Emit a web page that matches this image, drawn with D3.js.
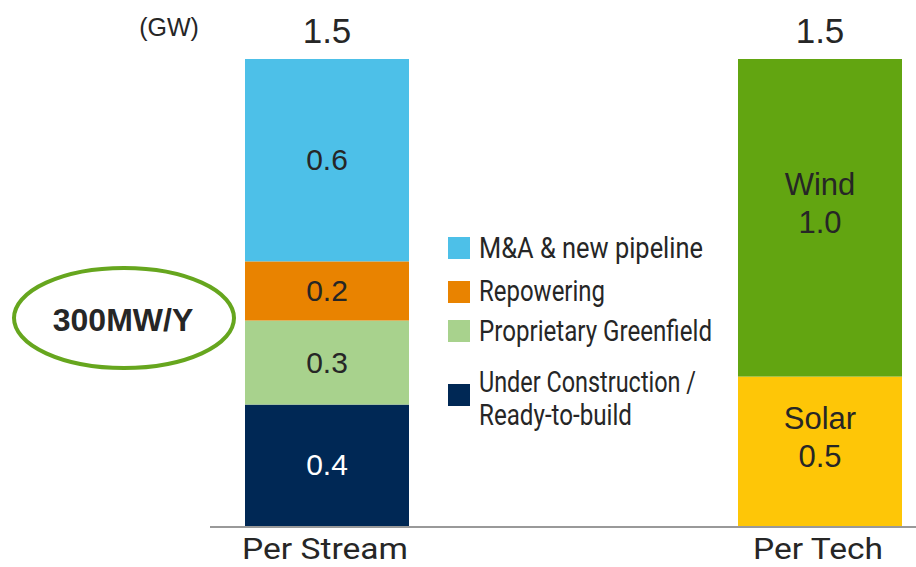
<!DOCTYPE html>
<html>
<head>
<meta charset="utf-8">
<script src="https://cdn.jsdelivr.net/npm/d3@7"></script>
<style>
  body { margin: 0; background: #fff; }
  text { fill: #262626; }
  .cond { font-family: "Roboto", "Liberation Sans", sans-serif; }
  .reg { font-family: "Liberation Sans", Arial, sans-serif; }
</style>
</head>
<body>
<div id="chart"></div>
<script>
// Data (GW)
const categories = ['Per Stream', 'Per Tech'];
const streamNames = ['Under Construction / Ready-to-build', 'Proprietary Greenfield', 'Repowering', 'M&A & new pipeline'];
const streamValues = [0.39, 0.27, 0.19, 0.65];
const streamLabels = ['0.4', '0.3', '0.2', '0.6'];
const techNames = ['Solar', 'Wind'];
const techValues = [0.48, 1.02];
const techLabels = ['0.5', '1.0'];
const totals = ['1.5', '1.5'];

const streamColors = ['#002855', '#A8D28D', '#E98300', '#4DC0E8'];
const techColors = ['#FEC607', '#62A511'];

const width = 916, height = 567;

const svg = d3.select('#chart').append('svg')
  .attr('width', width)
  .attr('height', height);

const x = d3.scaleOrdinal()
  .domain(categories)
  .range([245, 738]);
const barW = 164;

const y = d3.scaleLinear()
  .domain([0, 1.5])
  .range([526, 59]);

// stack helper
function stackUp(values) {
  let acc = 0;
  return values.map(v => { const s = { y0: acc, y1: acc + v }; acc += v; return s; });
}

const streamStack = stackUp(streamValues).map((d, i) => ({
  ...d, color: streamColors[i], label: streamLabels[i], name: streamNames[i]
}));
const techStack = stackUp(techValues).map((d, i) => ({
  ...d, color: techColors[i], label: techLabels[i], name: techNames[i]
}));

// Per Stream bar
const gStream = svg.append('g');
gStream.selectAll('rect')
  .data(streamStack)
  .enter().append('rect')
  .attr('x', x('Per Stream'))
  .attr('width', barW)
  .attr('y', d => y(d.y1))
  .attr('height', d => y(d.y0) - y(d.y1))
  .attr('fill', d => d.color);

gStream.selectAll('text')
  .data(streamStack)
  .enter().append('text')
  .attr('class', 'reg')
  .attr('x', x('Per Stream') + barW / 2)
  .attr('y', d => (y(d.y0) + y(d.y1)) / 2)
  .attr('dy', '0.34em')
  .attr('text-anchor', 'middle')
  .attr('font-size', 30)
  .style('fill', (d, i) => i === 0 ? '#fff' : '#262626')
  .text(d => d.label);

// Per Tech bar
const gTech = svg.append('g');
gTech.selectAll('rect')
  .data(techStack)
  .enter().append('rect')
  .attr('x', x('Per Tech'))
  .attr('width', barW)
  .attr('y', d => y(d.y1))
  .attr('height', d => y(d.y0) - y(d.y1))
  .attr('fill', d => d.color);

// labels sit in the upper part of each tech segment
const techOffset = [52, 136];
techStack.forEach((d, i) => {
  const cx = x('Per Tech') + barW / 2;
  const t = gTech.append('text')
    .attr('class', 'reg')
    .attr('y', y(d.y1) + techOffset[i])
    .attr('text-anchor', 'middle')
    .attr('font-size', 31);
  t.append('tspan').attr('x', cx).text(d.name);
  t.append('tspan').attr('x', cx).attr('dy', 38).text(d.label);
});

// totals above bars
svg.selectAll('.total')
  .data(categories)
  .enter().append('text')
  .attr('class', 'total reg')
  .attr('x', d => x(d) + barW / 2)
  .attr('y', 43)
  .attr('text-anchor', 'middle')
  .attr('font-size', 35)
  .text((d, i) => totals[i]);

// unit
svg.append('text')
  .attr('class', 'reg')
  .attr('x', 169)
  .attr('y', 36)
  .attr('text-anchor', 'middle')
  .attr('font-size', 25)
  .text('(GW)');

// baseline
svg.append('line')
  .attr('x1', 210)
  .attr('x2', width)
  .attr('y1', y(0) + 1)
  .attr('y2', y(0) + 1)
  .attr('stroke', '#999')
  .attr('stroke-width', 2);

// category labels
const catWidths = [166, 130];
svg.selectAll('.cat')
  .data(categories)
  .enter().append('text')
  .attr('class', 'cat cond')
  .attr('x', d => x(d) + barW / 2 - 2)
  .attr('y', 559)
  .attr('text-anchor', 'middle')
  .attr('font-size', 30)
  .attr('textLength', (d, i) => catWidths[i])
  .attr('lengthAdjust', 'spacingAndGlyphs')
  .text(d => d);

// legend (top to bottom)
const legendItems = [
  { color: streamColors[3], lines: ['M&A & new pipeline'], widths: [224], sq: 237, base: 258 },
  { color: streamColors[2], lines: ['Repowering'], widths: [126], sq: 281, base: 301 },
  { color: streamColors[1], lines: ['Proprietary Greenfield'], widths: [233], sq: 320, base: 341 },
  { color: streamColors[0], lines: ['Under Construction /', 'Ready-to-build'], widths: [217, 153], sq: 384, base: 392 }
];
const legend = svg.append('g');
legendItems.forEach(item => {
  legend.append('rect')
    .attr('x', 448)
    .attr('y', item.sq)
    .attr('width', 22)
    .attr('height', 22)
    .attr('fill', item.color);
  item.lines.forEach((l, j) => {
    legend.append('text')
      .attr('class', 'cond')
      .attr('font-size', 29)
      .attr('x', 479)
      .attr('y', item.base + j * 33)
      .attr('textLength', item.widths[j])
      .attr('lengthAdjust', 'spacingAndGlyphs')
      .text(l);
  });
});

// 300MW/Y callout
svg.append('ellipse')
  .attr('cx', 124)
  .attr('cy', 318)
  .attr('rx', 110)
  .attr('ry', 50)
  .attr('fill', 'none')
  .attr('stroke', '#66A61E')
  .attr('stroke-width', 4);
svg.append('text')
  .attr('class', 'reg')
  .attr('x', 123)
  .attr('y', 331)
  .attr('text-anchor', 'middle')
  .attr('font-size', 32)
  .attr('font-weight', 'bold')
  .text('300MW/Y');
</script>
</body>
</html>
